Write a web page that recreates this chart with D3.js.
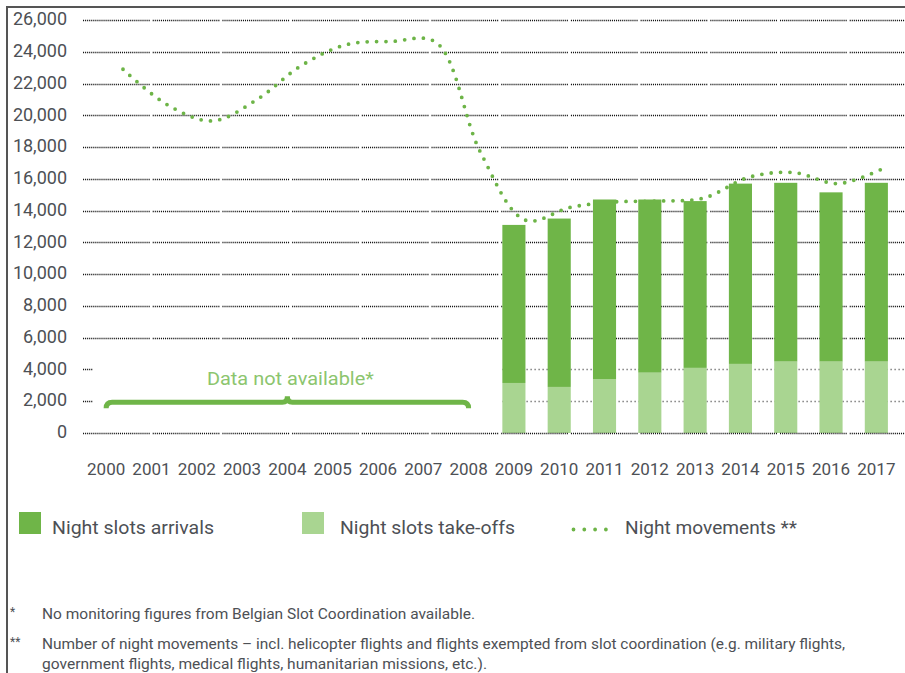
<!DOCTYPE html>
<html>
<head>
<meta charset="utf-8">
<script src="https://cdn.jsdelivr.net/npm/d3@7"></script>
<style>
  body { margin: 0; background: #fff; }
  svg { display: block; font-family: Roboto, "Liberation Sans", sans-serif; }
</style>
</head>
<body>
<script>
const years = ['2000', '2001', '2002', '2003', '2004', '2005', '2006', '2007', '2008',
  '2009', '2010', '2011', '2012', '2013', '2014', '2015', '2016', '2017'];
const barYears = ['2009', '2010', '2011', '2012', '2013', '2014', '2015', '2016', '2017'];
const takeoffs = [3150, 2900, 3400, 3800, 4100, 4350, 4500, 4500, 4500];
const arrivals = [9950, 10600, 11300, 10900, 10500, 11350, 11250, 10650, 11250];
const movements = [22900, 20650, 19650, 21000, 23150, 24450, 24650, 24600, 17650,
  13400, 14200, 14550, 14600, 14800, 16100, 16400, 15700, 16650];
const yTicks = [0, 2000, 4000, 6000, 8000, 10000, 12000, 14000, 16000, 18000,
  20000, 22000, 24000, 26000];
const legendLabels = ['Night slots arrivals', 'Night slots take-offs', 'Night movements **'];
const noteText = 'Data not available*';
const footnotes = [
  ['*', 'No monitoring figures from Belgian Slot Coordination available.'],
  ['**', 'Number of night movements \u2013 incl. helicopter flights and flights exempted from slot coordination (e.g. military flights,'],
  ['', 'government flights, medical flights, humanitarian missions, etc.).']
];

const w = 905;
const h = 673;
const dark = '#6fb548';
const light = '#a9d591';
const textCol = '#4d5055';

const svg = d3.select('body')
  .append('svg')
  .attr('width', w)
  .attr('height', h);

svg.append('rect').attr('width', w).attr('height', h).attr('fill', '#fff');

// frame (top + left)
svg.append('path')
  .attr('d', 'M7,' + h + 'V7H' + w)
  .attr('fill', 'none')
  .attr('stroke', '#555')
  .attr('stroke-width', 2);

const x = d3.scaleBand()
  .domain(years)
  .range([83.5, 899])
  .paddingInner(0.49)
  .paddingOuter(0.245);

const xMid = (d) => x(d) + x.bandwidth() / 2;

// the movements line sits a little offset from the bar centres
const xLine = d3.scalePoint()
  .domain(years)
  .range([123, 883]);

const y = d3.scaleLinear()
  .domain([0, 26000])
  .range([433, 20]);

// dotted gridlines with a small break every ~66px
const gridDash = [];
for (let i = 0; i < 32; i++) gridDash.push(1.1, 0.95);
gridDash.push(1.1, 3);
const dashStr = gridDash.join(' ');
const gridCol = '#151515';

function gridPath(v, x0, x1) {
  const yy = Math.round(y(v)) + 0.5;
  return 'M' + x0 + ',' + yy + 'H' + x1;
}

const grid = svg.append('g')
  .attr('fill', 'none');

grid.selectAll('path.main')
  .data(yTicks.filter((d) => d !== 0 && d !== 2000 && d !== 4000))
  .enter()
  .append('path')
  .attr('class', 'main')
  .attr('d', (d) => gridPath(d, 83, w))
  .attr('stroke', gridCol)
  .attr('stroke-width', 1.7)
  .attr('stroke-dasharray', dashStr);

const lowTicks = yTicks.filter((d) => d === 2000 || d === 4000);
grid.selectAll('path.stub')
  .data(lowTicks)
  .enter()
  .append('path')
  .attr('class', 'stub')
  .attr('d', (d) => gridPath(d, 83, 93))
  .attr('stroke', gridCol)
  .attr('stroke-width', 1.7)
  .attr('stroke-dasharray', '1.1 0.95');
grid.selectAll('path.low')
  .data(lowTicks)
  .enter()
  .append('path')
  .attr('class', 'low')
  .attr('d', (d) => gridPath(d, x('2009'), w))
  .attr('stroke', '#8a8a8a')
  .attr('stroke-width', 1.3)
  .attr('stroke-dasharray', '1.6 2.4');

// y axis
const yAxis = d3.axisLeft(y)
  .tickValues(yTicks)
  .tickFormat(d3.format(','))
  .tickSize(0)
  .tickPadding(3);

svg.append('g')
  .attr('class', 'axis')
  .attr('transform', 'translate(70,-1)')
  .call(yAxis)
  .call((g) => g.select('.domain').remove())
  .selectAll('text')
  .attr('font-size', 18)
  .attr('font-family', 'Roboto, sans-serif')
  .attr('fill', textCol);

// x axis
const xAxis = d3.axisBottom(x)
  .tickSize(0)
  .tickPadding(3);

svg.append('g')
  .attr('class', 'axis')
  .attr('transform', 'translate(0,460)')
  .call(xAxis)
  .call((g) => g.select('.domain').remove())
  .selectAll('text')
  .attr('font-size', 17)
  .attr('font-family', 'Roboto, sans-serif')
  .attr('fill', textCol);

// night movements (drawn behind the bars)
const line = d3.line()
  .x((d, i) => xLine(years[i]))
  .y((d) => y(d))
  .curve(d3.curveCatmullRom);

svg.append('path')
  .datum(movements)
  .attr('d', line)
  .attr('fill', 'none')
  .attr('stroke', '#6db447')
  .attr('stroke-width', 3.8)
  .attr('stroke-linecap', 'round')
  .attr('stroke-dasharray', '0 9.4');

// stacked bars
const table = barYears.map((yr, i) => ({ year: yr, takeoffs: takeoffs[i], arrivals: arrivals[i] }));
const stack = d3.stack().keys(['takeoffs', 'arrivals'])(table);
const colors = { takeoffs: light, arrivals: dark };

svg.selectAll('g.layer')
  .data(stack)
  .enter()
  .append('g')
  .attr('class', 'layer')
  .attr('fill', (d) => colors[d.key])
  .selectAll('rect')
  .data((d) => d)
  .enter()
  .append('rect')
  .attr('x', (d) => x(d.data.year))
  .attr('width', x.bandwidth())
  .attr('y', (d) => y(d[1]))
  .attr('height', (d) => y(d[0]) - y(d[1]));

// zero line sits on top of the bars
svg.append('path')
  .attr('d', gridPath(0, 83, w))
  .attr('fill', 'none')
  .attr('stroke', gridCol)
  .attr('stroke-width', 1.7)
  .attr('stroke-dasharray', dashStr);

// "data not available" brace over 2000-2008
const bx0 = xMid('2000');
const bx1 = xMid('2008');
const bm = (bx0 + bx1) / 2;
const by = y(2000) + 1;
svg.append('path')
  .attr('d', 'M' + bx0 + ',' + (by + 6) + 'Q' + bx0 + ',' + by + ' ' + (bx0 + 6) + ',' + by +
    'H' + (bm - 5) + 'Q' + bm + ',' + by + ' ' + bm + ',' + (by - 6) +
    'Q' + bm + ',' + by + ' ' + (bm + 5) + ',' + by +
    'H' + (bx1 - 6) + 'Q' + bx1 + ',' + by + ' ' + bx1 + ',' + (by + 6))
  .attr('fill', 'none')
  .attr('stroke', dark)
  .attr('stroke-width', 5);

svg.append('text')
  .attr('x', bm + 3)
  .attr('y', 385)
  .attr('text-anchor', 'middle')
  .attr('font-size', 18)
  .attr('fill', '#8cc56e')
  .attr('textLength', 167)
  .attr('lengthAdjust', 'spacingAndGlyphs')
  .text(noteText);

// legend
const legend = svg.append('g');
legend.append('rect').attr('x', 19).attr('y', 512).attr('width', 22).attr('height', 22).attr('fill', dark);
legend.append('rect').attr('x', 302).attr('y', 512).attr('width', 22).attr('height', 22).attr('fill', light);
legend.append('path')
  .attr('d', 'M573.5,529.5H606')
  .attr('stroke', '#6db447')
  .attr('stroke-width', 3.8)
  .attr('stroke-linecap', 'round')
  .attr('stroke-dasharray', '0 10.8');

const legendPos = [[52, 162], [340, 175], [625, 172]];
legend.selectAll('text')
  .data(legendLabels)
  .enter()
  .append('text')
  .attr('x', (d, i) => legendPos[i][0])
  .attr('y', 534)
  .attr('font-size', 19)
  .attr('fill', textCol)
  .attr('textLength', (d, i) => legendPos[i][1])
  .attr('lengthAdjust', 'spacingAndGlyphs')
  .text((d) => d);

// footnotes
const noteY = [619, 649, 669];
const noteW = [433, 803, 445];
const notes = svg.append('g').attr('font-size', 14).attr('fill', textCol);
notes.selectAll('text.mark')
  .data(footnotes)
  .enter()
  .append('text')
  .attr('class', 'mark')
  .attr('x', 10)
  .attr('y', (d, i) => noteY[i] - 3)
  .attr('font-size', 12)
  .text((d) => d[0]);
notes.selectAll('text.body')
  .data(footnotes)
  .enter()
  .append('text')
  .attr('class', 'body')
  .attr('x', 42)
  .attr('y', (d, i) => noteY[i])
  .attr('textLength', (d, i) => noteW[i])
  .attr('lengthAdjust', 'spacingAndGlyphs')
  .text((d) => d[1]);
</script>
</body>
</html>
